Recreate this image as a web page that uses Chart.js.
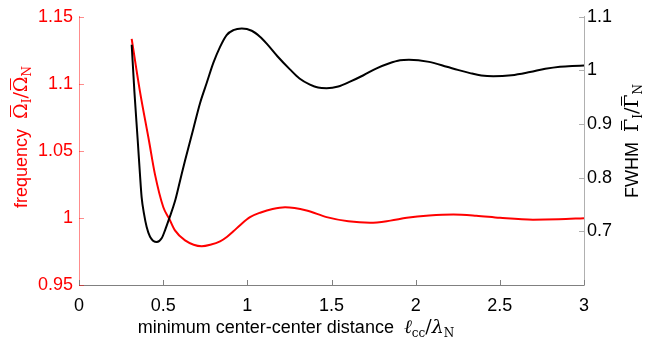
<!DOCTYPE html>
<html>
<head>
<meta charset="utf-8">
<script src="https://cdn.jsdelivr.net/npm/chart.js@4/dist/chart.umd.min.js"></script>
<style>
  html, body { margin: 0; padding: 0; background: #fff; }
  canvas { display: block; }
</style>
</head>
<body>
<canvas id="chart" width="669" height="342"></canvas>
<script>
// ================= DATA =================
const freqDistance = [0.313, 0.362, 0.416, 0.451, 0.501, 0.536, 0.570, 0.630, 0.729, 0.78, 0.838, 0.88, 0.917, 0.96, 1.016, 1.08, 1.15, 1.224, 1.352, 1.471, 1.6, 1.729, 1.85, 1.947, 2.08, 2.224, 2.36, 2.501, 2.697, 2.85, 3.0];
const freqValues   = [1.1335, 1.0944, 1.0574, 1.0327, 1.008, 0.9994, 0.9907, 0.9833, 0.9789, 0.980, 0.9825, 0.986, 0.990, 0.995, 1.0006, 1.0041, 1.0067, 1.008, 1.0056, 1.0006, 0.9975, 0.9964, 0.998, 1.0001, 1.0018, 1.0026, 1.0017, 1.0001, 0.9987, 0.999, 0.9998];

const fwhmDistance = [0.313, 0.329, 0.349, 0.362, 0.372, 0.386, 0.402, 0.422, 0.462, 0.491, 0.511, 0.536, 0.570, 0.600, 0.630, 0.679, 0.719, 0.759, 0.798, 0.838, 0.877, 0.917, 0.967, 1.026, 1.075, 1.115, 1.18, 1.253, 1.31, 1.372, 1.42, 1.471, 1.54, 1.61, 1.69, 1.768, 1.84, 1.907, 1.96, 2.08, 2.185, 2.25, 2.323, 2.39, 2.461, 2.57, 2.679, 2.77, 2.857, 2.93, 3.0];
const fwhmValues   = [1.048, 0.961, 0.869, 0.807, 0.764, 0.733, 0.708, 0.690, 0.680, 0.687, 0.702, 0.724, 0.756, 0.794, 0.832, 0.891, 0.939, 0.977, 1.014, 1.044, 1.066, 1.075, 1.078, 1.074, 1.063, 1.050, 1.026, 1.002, 0.985, 0.9735, 0.968, 0.967, 0.970, 0.979, 0.991, 1.004, 1.013, 1.019, 1.020, 1.016, 1.007, 1.001, 0.995, 0.9905, 0.989, 0.991, 0.997, 1.003, 1.007, 1.0085, 1.009];

const xTicks    = [0, 0.5, 1, 1.5, 2, 2.5, 3];
const freqTicks = [0.95, 1, 1.05, 1.1, 1.15];
const fwhmTicks = [0.7, 0.8, 0.9, 1, 1.1];

const SANS = "'Liberation Sans', Arial, sans-serif";
const SERIF = "'DejaVu Serif', 'Liberation Serif', serif";
const RED = "#ff0000";

// ================= TEXTO COM SUBSCRITO =================
function drawRich(ctx, parts, cx, cy, rot) {
  ctx.save();
  ctx.translate(cx, cy);
  if (rot) ctx.rotate(rot);
  ctx.textBaseline = "alphabetic";
  ctx.textAlign = "left";
  let total = 0;
  parts.forEach(p => { ctx.font = p.f; total += ctx.measureText(p.t).width; });
  let x = -total / 2;
  parts.forEach(p => {
    ctx.font = p.f;
    ctx.fillStyle = p.c;
    const w = ctx.measureText(p.t).width;
    ctx.fillText(p.t, x, 6 + (p.dy || 0));
    if (p.bar) {
      // barra por cima (Omega/Gamma barra)
      ctx.fillRect(x + 2, 6 - 17, w - 4, 1);
    }
    x += w;
  });
  ctx.restore();
}

const decoracao = {
  id: "decoracao",
  afterDraw(chart) {
    const ctx = chart.ctx;
    const a = chart.chartArea;
    const sx = chart.scales.x, sl = chart.scales.y, sr = chart.scales.y1;
    ctx.save();
    ctx.lineWidth = 1;
    // ticks para dentro
    ctx.strokeStyle = "#808080";
    xTicks.forEach(v => {
      const px = Math.round(sx.getPixelForValue(v)) + 0.5;
      ctx.beginPath(); ctx.moveTo(px, a.bottom); ctx.lineTo(px, a.bottom - 5); ctx.stroke();
    });
    ctx.strokeStyle = "#b0b0b0";
    fwhmTicks.forEach(v => {
      const py = Math.round(sr.getPixelForValue(v)) + 0.5;
      ctx.beginPath(); ctx.moveTo(a.right, py); ctx.lineTo(a.right - 5, py); ctx.stroke();
    });
    ctx.strokeStyle = "rgba(255,0,0,0.45)";
    freqTicks.forEach(v => {
      const py = Math.round(sl.getPixelForValue(v)) + 0.5;
      ctx.beginPath(); ctx.moveTo(a.left, py); ctx.lineTo(a.left + 5, py); ctx.stroke();
    });
    ctx.restore();

    // titulos dos eixos
    const big = "19px " + SERIF, sub = "12px " + SERIF, txt = "18px " + SANS;
    drawRich(ctx, [
      { t: "frequency  ", f: txt, c: RED },
      { t: "\u03A9", f: big, c: RED, bar: true },
      { t: "I", f: sub, c: RED, dy: 4 },
      { t: "/", f: big, c: RED },
      { t: "\u03A9", f: big, c: RED, bar: true },
      { t: "N", f: sub, c: RED, dy: 4 }
    ], 21, 137, -Math.PI / 2);

    drawRich(ctx, [
      { t: "FWHM  ", f: txt, c: "#000" },
      { t: "\u0393", f: big, c: "#000", bar: true },
      { t: "I", f: sub, c: "#000", dy: 4 },
      { t: "/", f: big, c: "#000" },
      { t: "\u0393", f: big, c: "#000", bar: true },
      { t: "N", f: sub, c: "#000", dy: 4 }
    ], 632, 141, -Math.PI / 2);

    drawRich(ctx, [
      { t: "minimum center-center distance  ", f: txt, c: "#000" },
      { t: "\u2113", f: "italic " + big, c: "#000" },
      { t: "cc", f: sub, c: "#000", dy: 4 },
      { t: "/", f: big, c: "#000" },
      { t: "\u03BB", f: "italic " + big, c: "#000" },
      { t: "N", f: sub, c: "#000", dy: 4 }
    ], 296, 327, 0);
  }
};

// ================= GRAFICO =================
new Chart(document.getElementById("chart"), {
  type: "line",
  data: {
    datasets: [
      {
        label: "FWHM",
        data: fwhmDistance.map((d, i) => ({ x: d, y: fwhmValues[i] })),
        yAxisID: "y1",
        borderColor: "#000",
        borderWidth: 2,
        pointRadius: 0,
        cubicInterpolationMode: "monotone",
        fill: false
      },
      {
        label: "frequency",
        data: freqDistance.map((d, i) => ({ x: d, y: freqValues[i] })),
        yAxisID: "y",
        borderColor: RED,
        borderWidth: 2,
        pointRadius: 0,
        cubicInterpolationMode: "monotone",
        fill: false
      }
    ]
  },
  options: {
    responsive: false,
    animation: false,
    devicePixelRatio: 1,
    layout: { padding: { top: 15, right: 0, left: 0, bottom: 0 } },
    plugins: { legend: { display: false }, tooltip: { enabled: false } },
    scales: {
      x: {
        type: "linear",
        min: 0, max: 3,
        afterFit: s => { s.height = 57; },
        afterBuildTicks: s => { s.ticks = xTicks.map(v => ({ value: v })); },
        grid: { display: false, drawTicks: false },
        border: { display: true, color: "#808080", width: 1 },
        ticks: { color: "#000", font: { family: SANS, size: 18 }, padding: 10, maxRotation: 0, autoSkip: false,
                 callback: v => String(v) }
      },
      y: {
        position: "left",
        min: 0.95, max: 1.15,
        afterFit: s => { s.width = 79; },
        afterBuildTicks: s => { s.ticks = freqTicks.map(v => ({ value: v })); },
        grid: { display: false, drawTicks: false },
        border: { display: true, color: "rgba(255,0,0,0.45)", width: 1 },
        ticks: { color: RED, font: { family: SANS, size: 18 }, padding: 6, autoSkip: false,
                 callback: v => String(Math.round(v * 100) / 100) }
      },
      y1: {
        position: "right",
        min: 0.6, max: 1.1,
        afterFit: s => { s.width = 85; },
        afterBuildTicks: s => { s.ticks = fwhmTicks.map(v => ({ value: v })); },
        grid: { display: false, drawTicks: false },
        border: { display: true, color: "#b0b0b0", width: 1 },
        ticks: { color: "#000", font: { family: SANS, size: 18 }, padding: 3, autoSkip: false,
                 callback: v => String(Math.round(v * 10) / 10) }
      }
    }
  },
  plugins: [decoracao]
});
</script>
</body>
</html>
